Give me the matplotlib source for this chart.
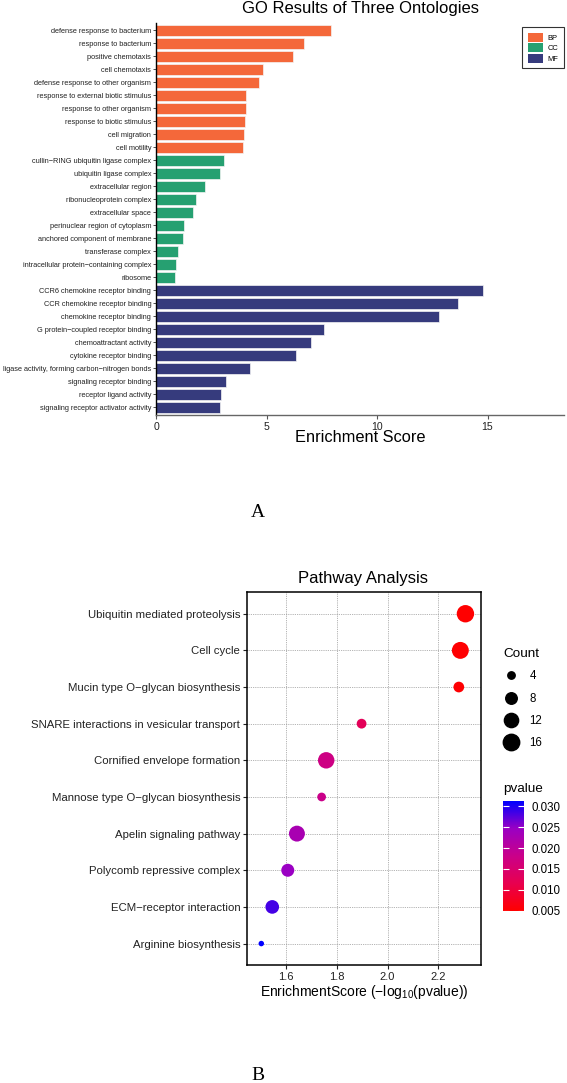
import numpy as np
import matplotlib as mpl
mpl.use("Agg")
import matplotlib.pyplot as plt
from matplotlib.colors import LinearSegmentedColormap, Normalize
from matplotlib.lines import Line2D
from matplotlib.patches import Patch

plt.rcParams["font.family"] = ["Liberation Sans", "DejaVu Sans"]
plt.rcParams["mathtext.fontset"] = "custom"
plt.rcParams["mathtext.rm"] = "Liberation Sans"

# ---- panel A data: GO enrichment per ontology ----
bp_terms = ["defense response to bacterium", "response to bacterium", "positive chemotaxis",
            "cell chemotaxis", "defense response to other organism",
            "response to external biotic stimulus", "response to other organism",
            "response to biotic stimulus", "cell migration", "cell motility"]
bp_scores = [7.92, 6.71, 6.20, 4.83, 4.66, 4.09, 4.09, 4.03, 4.00, 3.94]

cc_terms = ["cullin\u2212RING ubiquitin ligase complex", "ubiquitin ligase complex",
            "extracellular region", "ribonucleoprotein complex", "extracellular space",
            "perinuclear region of cytoplasm", "anchored component of membrane",
            "transferase complex", "intracellular protein\u2212containing complex", "ribosome"]
cc_scores = [3.06, 2.88, 2.22, 1.83, 1.69, 1.27, 1.22, 1.01, 0.92, 0.88]

mf_terms = ["CCR6 chemokine receptor binding", "CCR chemokine receptor binding",
            "chemokine receptor binding", "G protein\u2212coupled receptor binding",
            "chemoattractant activity", "cytokine receptor binding",
            "ligase activity, forming carbon\u2212nitrogen bonds", "signaling receptor binding",
            "receptor ligand activity", "signaling receptor activator activity"]
mf_scores = [14.78, 13.67, 12.82, 7.59, 7.03, 6.33, 4.24, 3.18, 2.93, 2.88]

onto_names = ["BP", "CC", "MF"]
onto_colors = ["#F4683A", "#26A071", "#363B7D"]

# ---- panel B data: pathway analysis ----
pathways = ["Ubiquitin mediated proteolysis", "Cell cycle", "Mucin type O\u2212glycan biosynthesis",
            "SNARE interactions in vesicular transport", "Cornified envelope formation",
            "Mannose type O\u2212glycan biosynthesis", "Apelin signaling pathway",
            "Polycomb repressive complex", "ECM\u2212receptor interaction", "Arginine biosynthesis"]
path_scores = [2.306, 2.286, 2.280, 1.898, 1.759, 1.741, 1.644, 1.608, 1.547, 1.504]
path_pvalues = [0.0049, 0.0052, 0.0052, 0.0126, 0.0174, 0.0182, 0.0227, 0.0247, 0.0284, 0.0313]
path_counts = [18, 17, 7, 6, 16, 5, 15, 10, 11, 3]
count_breaks = [4, 8, 12, 16]
pvalue_breaks = [0.005, 0.010, 0.015, 0.020, 0.025, 0.030]

W, H = 567, 1083
fig = plt.figure(figsize=(W / 100, H / 100), dpi=100)


def box(l, t, r, b):
    return [l / W, 1 - b / H, (r - l) / W, (b - t) / H]


def fx(x):
    return x / W


def fy(y):
    return 1 - y / H


# ================= panel A =================
ax1 = fig.add_axes(box(156, 22.7, 564, 415))
terms = bp_terms + cc_terms + mf_terms
scores = bp_scores + cc_scores + mf_scores
cols = ([onto_colors[0]] * len(bp_terms) + [onto_colors[1]] * len(cc_terms)
        + [onto_colors[2]] * len(mf_terms))
ypos = np.arange(len(terms))
ax1.barh(ypos, scores, height=0.82, color=cols, edgecolor="#f4f4f4", linewidth=0.5)
ax1.set_ylim(len(terms) - 0.4, -0.6)
ax1.set_xlim(0, 18.46)
ax1.set_yticks(ypos)
ax1.set_yticklabels(terms, fontsize=5.35, color="#222222")
ax1.set_xticks([0, 5, 10, 15])
ax1.set_xticklabels(["0", "5", "10", "15"], fontsize=7.6, color="#222222")
for s in ["top", "right"]:
    ax1.spines[s].set_visible(False)
ax1.spines["left"].set_color("black")
ax1.spines["left"].set_linewidth(1.0)
ax1.spines["bottom"].set_color("#666666")
ax1.spines["bottom"].set_linewidth(1.0)
ax1.tick_params(axis="y", length=2, width=0.6, pad=1.5, color="#333333")
ax1.tick_params(axis="x", length=3, width=0.8, pad=2, color="#555555")

handles = [Patch(facecolor=c, edgecolor="none") for c in onto_colors]
leg = ax1.legend(handles, onto_names, loc="upper right",
                 bbox_to_anchor=(1.0, (415 - 27) / (415 - 22.7)),
                 fontsize=5.4, handlelength=2.0, handleheight=1.47, labelspacing=0.2,
                 handletextpad=0.6, borderpad=0.75, borderaxespad=0,
                 frameon=True, fancybox=False, edgecolor="black")
leg.get_frame().set_linewidth(0.8)

fig.text(fx(360), fy(8), "GO Results of Three Ontologies", fontsize=12,
         ha="center", va="center")
fig.text(fx(360), fy(438), "Enrichment Score", fontsize=11.8, ha="center", va="center")
fig.text(fx(258), fy(513), "A", fontfamily="Liberation Serif", fontsize=14,
         ha="center", va="center")

# ================= panel B =================
ax2 = fig.add_axes(box(247.3, 592.3, 480.7, 965))
ax2.set_xlim(1.449, 2.366)
ax2.set_ylim(len(pathways) - 0.415, -0.585)
ax2.set_axisbelow(True)
ax2.grid(True, color="#999999", linestyle=(0, (1, 1.2)), linewidth=0.6)

cmap = LinearSegmentedColormap.from_list(
    "red_blue_lab", ["#FF0000", "#E8004F", "#CA0089", "#9A00C3", "#0000FF"])
norm = Normalize(vmin=min(path_pvalues), vmax=max(path_pvalues))
size_lo, size_hi = 2.5, 18


def count_to_diam_pt(c):
    # area-style size scale (ggplot-like), returned in points
    px = 2.9 * (1 + 5 * np.sqrt((np.asarray(c, float) - size_lo) / (size_hi - size_lo)))
    return px * 0.72


yp = np.arange(len(pathways))
sc = ax2.scatter(path_scores, yp, s=count_to_diam_pt(path_counts) ** 2, c=path_pvalues,
                 cmap=cmap, norm=norm, edgecolors="none", zorder=3)
ax2.set_yticks(yp)
ax2.set_yticklabels(pathways, fontsize=8.2, color="#222222")
ax2.set_xticks([1.6, 1.8, 2.0, 2.2])
ax2.set_xticklabels(["1.6", "1.8", "2.0", "2.2"], fontsize=8, color="#222222")
for s in ax2.spines.values():
    s.set_color("black")
    s.set_linewidth(1.1)
ax2.tick_params(length=3, width=0.8, pad=2, color="#222222")

fig.text(fx(363.4), fy(578), "Pathway Analysis", fontsize=12, ha="center", va="center")
fig.text(fx(364), fy(991.7), "EnrichmentScore (\u2212log$_{\\mathregular{10}}$(pvalue))",
         fontsize=10, ha="center", va="center")

# size legend
size_handles = [Line2D([], [], marker="o", linestyle="", color="black",
                       markersize=float(count_to_diam_pt(c))) for c in count_breaks]
leg2 = fig.legend(size_handles, [str(c) for c in count_breaks], title="Count",
                  loc="upper left", bbox_to_anchor=(fx(503), fy(648)), frameon=False,
                  fontsize=8.3, title_fontsize=9.7, alignment="left",
                  handlelength=1.4, handletextpad=0.9, labelspacing=0.9,
                  borderpad=0, borderaxespad=0)

# colour bar
cax = fig.add_axes(box(502.7, 801, 524.3, 911))
cb = fig.colorbar(sc, cax=cax)
cb.outline.set_visible(False)
cb.set_ticks(pvalue_breaks)
cb.set_ticklabels(["%.3f" % v for v in pvalue_breaks])
cb.minorticks_off()
cax.tick_params(left=True, right=True, labelleft=False, labelright=True,
                direction="in", color="white", length=4, width=0.8,
                labelsize=8.3, pad=5)
fig.text(fx(503), fy(789), "pvalue", fontsize=9.7, ha="left", va="center")

fig.text(fx(258), fy(1075), "B", fontfamily="Liberation Serif", fontsize=14,
         ha="center", va="center")

fig.savefig("out.png", dpi=100)
